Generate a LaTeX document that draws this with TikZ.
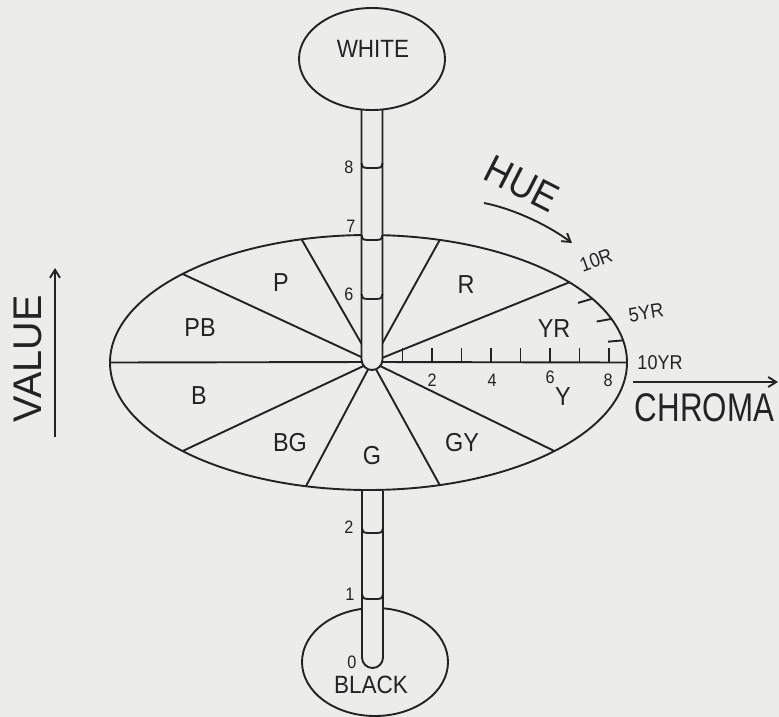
\documentclass[tikz,border=0pt]{standalone}
\usepackage{fontspec}
\usepackage{graphicx}
\setmainfont{Liberation Sans}[FakeStretch=0.9]
\usetikzlibrary{arrows.meta,calc,shapes.geometric}
\definecolor{paper}{RGB}{236,236,235}
\definecolor{ink}{RGB}{35,35,35}
\begin{document}
\begin{tikzpicture}[x=1pt,y=-1pt, line width=1.9pt, line join=round, color=ink,
  txt/.style={inner sep=0pt, text=ink},
  sector/.style={txt, font=\fontsize{26}{26}\selectfont},
  big/.style={txt, font=\fontsize{25}{25}\selectfont},
  digit/.style={txt, font=\fontsize{18}{18}\selectfont},
  huelbl/.style={txt, font=\fontsize{20}{20}\selectfont},
  axis/.style={txt, font=\fontsize{40}{40}\selectfont},
  pole/.style={draw=ink, ellipse, inner sep=0pt},
  arr/.style={-{Straight Barb[length=8pt,width=10pt]}}
]
\useasboundingbox (0,0) rectangle (779,717);
\fill[paper] (0,0) rectangle (779,717);

% poles and disc
\node[pole, minimum width=146pt, minimum height=108pt] (black) at (375,662) {};
\node[pole, minimum width=517pt, minimum height=255pt] (disc) at (368.5,362.5) {};
\node[pole, minimum width=146pt, minimum height=102pt] (white) at (372,59) {};
\coordinate (hub) at (372,362);

% hue sector boundaries
\foreach \t in {0,39,74,105,136,180,224,256,286,316}
  \draw (hub) -- ({368.5+258.5*cos(\t)},{362.5-127.5*sin(\t)});

% hue ticks inside YR
\foreach \t in {10,20,30}{
  \coordinate (ht\t) at ({368.5+258.5*cos(\t)},{362.5-127.5*sin(\t)});
  \draw (ht\t) -- ($(ht\t)!15pt!(hub)$);
}

% chroma ticks
\foreach \i in {1,...,8}
  \draw ({373+29.5*\i},348) -- ({373+29.5*\i},362);

% upper value tube
\fill[paper] (361.5,111) rectangle (382.5,359.5);
\fill[paper] (372,359.5) circle[radius=10.5pt];
\draw[rounded corners=10.5pt] (361.5,110) -- (361.5,370) -- (382.5,370) -- (382.5,110);
% lower value tube
\fill[paper] (362,492) rectangle (383,657.5);
\fill[paper] (372.5,657.5) circle[radius=10.5pt];
\draw[rounded corners=10.5pt] (362,491) -- (362,668) -- (383,668) -- (383,491);

% value marks
\foreach \y in {168,240,299}
  \draw (361.5,\y-5) .. controls (362.5,\y) and (364,\y) .. (367,\y) -- (377,\y) .. controls (380,\y) and (381.5,\y) .. (382.5,\y-5);
\foreach \y in {533,599}
  \draw (362,\y-5) .. controls (363,\y) and (364.5,\y) .. (367.5,\y) -- (377.5,\y) .. controls (380.5,\y) and (382,\y) .. (383,\y-5);

% value digits
\node[digit] (v8) at (349,167) {8};
\node[digit] (v7) at (351,226) {7};
\node[digit] (v6) at (349,294) {6};
\node[digit] (v2) at (349,527) {2};
\node[digit] (v1) at (350,594) {1};
\node[digit] (v0) at (352,662) {0};

% chroma digits
\node[digit] (c2) at (432,380) {2};
\node[digit] (c4) at (492,380) {4};
\node[digit] (c6) at (550,377) {6};
\node[digit] (c8) at (608,380) {8};

% pole labels
\node[big] (whitelbl) at (373,49) {WHITE};
\node[big] (blacklbl) at (371,685) {BLACK};

% sector labels
\node[sector] (lP) at (281,283) {P};
\node[sector] (lPB) at (200,328) {PB};
\node[sector] (lB) at (199,396) {B};
\node[sector] (lR) at (466,285) {R};
\node[sector] (lYR) at (554,329) {YR};
\node[sector] (lY) at (563,397) {Y};
\node[sector] (lGY) at (462,443) {GY};
\node[sector] (lG) at (372,456) {G};
\node[sector] (lBG) at (290,443) {BG};

% hue labels
\node[huelbl, rotate=20] (h10R) at (596,260) {10R};
\node[huelbl, rotate=9] (h5YR) at (646,313) {5YR};
\node[huelbl] (h10YR) at (660,363) {10YR};

% axis labels and arrows
\node[axis, rotate=90] (value) at (28,359) {\scalebox{1.1}[1]{VALUE}};
\coordinate (va) at (55,437);
\coordinate (vb) at (55,268);
\draw[arr] (va) -- (vb);

\node[axis, rotate=-27] (hue) at (522,184) {\scalebox{1.0}[1]{HUE}};
\coordinate (ha) at (484,203);
\coordinate (hb) at (572,243);
\draw[arr] (ha) .. controls (510,208) and (545,223) .. (hb);

\node[axis, anchor=west] (chroma) at (634,408) {\scalebox{0.87}[1]{CHROMA}};
\coordinate (ca) at (633,382);
\coordinate (cb) at (778,382);
\draw[arr] (ca) -- (cb);
\end{tikzpicture}
\end{document}
